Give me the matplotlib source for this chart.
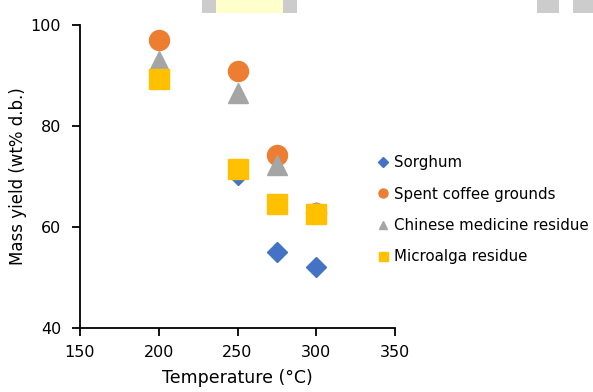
import matplotlib
matplotlib.use("Agg")
import matplotlib.pyplot as plt
from matplotlib.patches import Rectangle

plt.rcParams['font.family'] = ['DejaVu Sans']

temps_sorghum = [250, 275, 300]
sorghum = [70.2, 55.0, 52.1]
temps = [200, 250, 275, 300]
coffee = [97.1, 90.9, 74.3, 62.8]
chinese = [92.9, 86.5, 72.3, 62.9]
microalga = [89.3, 71.5, 64.6, 62.6]

W, H = 593, 392
fig = plt.figure(figsize=(W/100, H/100), dpi=100)
ax = fig.add_axes([80/W, 1-328/H, 315/W, 303/H])

# decorative fragments at top edge
for x0, x1, c in [(202, 216, '#cccccc'), (216, 283, '#ffffcc'), (283, 297, '#cccccc'),
                  (537, 559, '#cccccc'), (573, 593, '#cccccc')]:
    fig.patches.append(Rectangle((x0/W, 1-13/H), (x1-x0)/W, 13/H,
                                 transform=fig.transFigure, color=c, lw=0, zorder=0))

ms = 14.4
ax.plot(temps_sorghum, sorghum, 'D', color='#4472C4', ms=10.2, mec='#4472C4', label='Sorghum', zorder=3)
ax.plot(temps, coffee, 'o', color='#ED7D31', ms=ms, mec='#ED7D31', label='Spent coffee grounds', zorder=4)
ax.plot(temps, chinese, '^', color='#A5A5A5', ms=13.9, mec='#A5A5A5', label='Chinese medicine residue', zorder=5)
ax.plot(temps, microalga, 's', color='#FFC000', ms=ms, mec='#FFC000', label='Microalga residue', zorder=6)

ax.set_xlim(150, 350)
ax.set_ylim(40, 100)
ax.set_xticks([150, 200, 250, 300, 350])
ax.set_yticks([40, 60, 80, 100])
for s in ['top', 'right']:
    ax.spines[s].set_visible(False)
for s in ['left', 'bottom']:
    ax.spines[s].set_linewidth(1.3)
ax.tick_params(direction='out', length=6, width=1.3, labelsize=11.5)
ax.tick_params(axis='x', pad=6)
ax.tick_params(axis='y', pad=7.5)
ax.set_xlabel('Temperature (°C)', fontsize=12.5, labelpad=7)
ax.set_ylabel('Mass yield (wt% d.b.)', fontsize=12, labelpad=3)

leg = ax.legend(loc='upper left', bbox_to_anchor=((378-80)/315, 1-(155-25)/303), frameon=False,
                fontsize=10.8, markerscale=0.45, handlelength=0.6, handletextpad=0.45,
                labelspacing=1.1, borderaxespad=0, borderpad=0)

fig.savefig('out.png', dpi=100)
